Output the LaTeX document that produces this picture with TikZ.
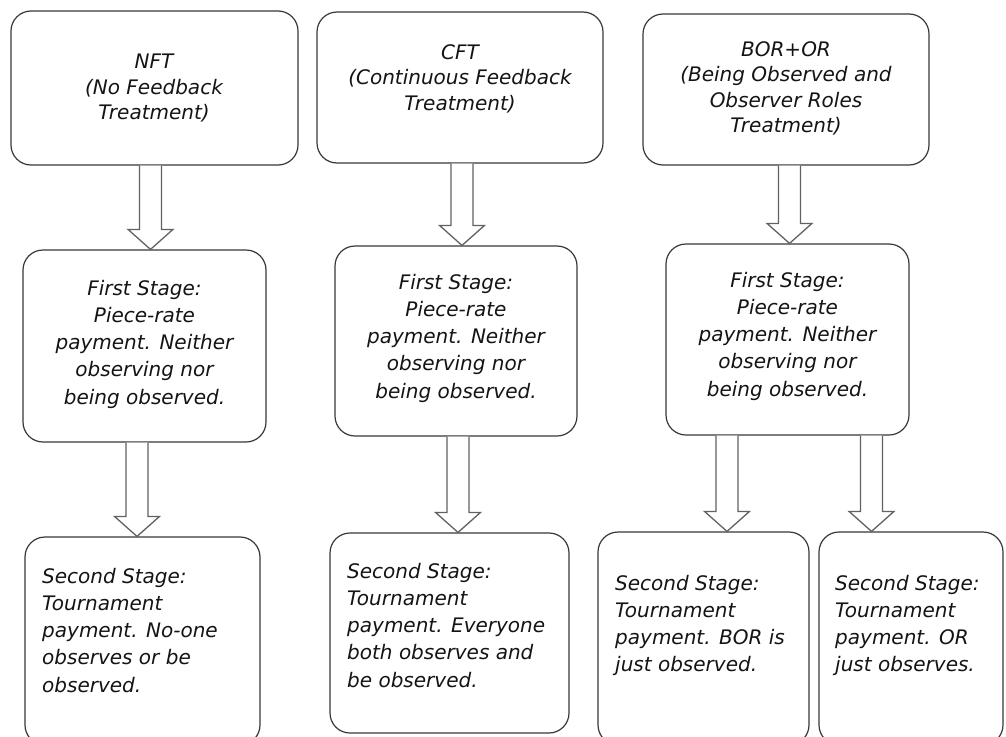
\documentclass[tikz,border=0pt]{standalone}
\usepackage{fontspec}
\setmainfont{DejaVu Sans}
\usetikzlibrary{calc}
\begin{document}
\begin{tikzpicture}[x=1pt,y=-1pt,
  box/.style={draw=black!78, line width=1.2pt, rounded corners=20pt, fill=white, inner sep=0pt},
  toptxt/.style={inner sep=0pt, align=center, text=black!92,
    font=\fontsize{20}{25.5}\selectfont\itshape, execute at begin node=\strut},
  midtxt/.style={inner sep=0pt, align=center, text=black!92,
    font=\fontsize{20}{27.2}\selectfont\itshape, execute at begin node=\strut},
  lowtxt/.style={inner sep=0pt, align=left, text=black!92,
    font=\fontsize{20}{27.2}\selectfont\itshape, execute at begin node=\strut},
  blockarrow/.style={draw=black!62, line width=1.3pt, fill=white,
    to path={let \p1=(\tikztostart), \p2=(\tikztotarget) in
      (\x1-11pt,\y1) -- (\x1-11pt,\y2+20pt) -- (\x1-22.5pt,\y2+20pt) -- (\x1,\y2)
      -- (\x1+22.5pt,\y2+20pt) -- (\x1+11pt,\y2+20pt) -- (\x1+11pt,\y1)}}
]
\useasboundingbox (0,0) rectangle (1006,736);

% top row
\node[box, minimum width=287pt, minimum height=154pt] (t1) at (154.5,88) {};
\node[box, minimum width=286pt, minimum height=151pt] (t2) at (460,87.5) {};
\node[box, minimum width=286pt, minimum height=151pt] (t3) at (786,89.5) {};
% first stage
\node[box, minimum width=243pt, minimum height=192pt] (f1) at (144.5,346) {};
\node[box, minimum width=242pt, minimum height=190pt] (f2) at (456,341) {};
\node[box, minimum width=243pt, minimum height=191pt] (f3) at (787.5,339.5) {};
% second stage
\node[box, minimum width=235pt, minimum height=208pt] (s1) at (142.5,641) {};
\node[box, minimum width=239pt, minimum height=200pt] (s2) at (449.5,633) {};
\node[box, minimum width=211pt, minimum height=213pt] (s3) at (703.5,638.5) {};
\node[box, minimum width=184pt, minimum height=213pt] (s4) at (911,638.5) {};

% texts
\node[toptxt, anchor=north] (t1x) at (154,{72-17.85}) {NFT\\(No Feedback\\Treatment)};
\node[toptxt, anchor=north] (t2x) at (460,{62-17.85}) {CFT\\(Continuous Feedback\\Treatment)};
\node[toptxt, anchor=north] (t3x) at (786,{59-17.85}) {BOR+OR\\(Being Observed and\\Observer Roles\\Treatment)};

\node[midtxt, anchor=north] (f1x) at (144.5,{299-19.04}) {First Stage:\\Piece-rate\\payment. Neither\\observing nor\\being observed.};
\node[midtxt, anchor=north] (f2x) at (456,{293-19.04}) {First Stage:\\Piece-rate\\payment. Neither\\observing nor\\being observed.};
\node[midtxt, anchor=north] (f3x) at (787.5,{291-19.04}) {First Stage:\\Piece-rate\\payment. Neither\\observing nor\\being observed.};

\node[lowtxt, anchor=north west] (s1x) at (42,{587-19.04}) {Second Stage:\\Tournament\\payment. No-one\\observes or be\\observed.};
\node[lowtxt, anchor=north west] (s2x) at (347,{582-19.04}) {Second Stage:\\Tournament\\payment. Everyone\\both observes and\\be observed.};
\node[lowtxt, anchor=north west] (s3x) at (615,{594-19.04}) {Second Stage:\\Tournament\\payment. BOR is\\just observed.};
\node[lowtxt, anchor=north west] (s4x) at (835,{594-19.04}) {Second Stage:\\Tournament\\payment. OR\\just observes.};

% arrows
\draw[blockarrow] ([xshift=-4pt]t1.south) to (f1.north);
\draw[blockarrow] ([xshift=-7.5pt]f1.south) to (s1.north);
\draw[blockarrow] ([xshift=2pt]t2.south) to (f2.north);
\draw[blockarrow] ([xshift=2pt]f2.south) to (s2.north);
\draw[blockarrow] ([xshift=3.5pt]t3.south) to (f3.north);
\draw[blockarrow] ([xshift=-60.5pt]f3.south) to (s3.north);
\draw[blockarrow] ([xshift=84pt]f3.south) to (s4.north);
\end{tikzpicture}
\end{document}
